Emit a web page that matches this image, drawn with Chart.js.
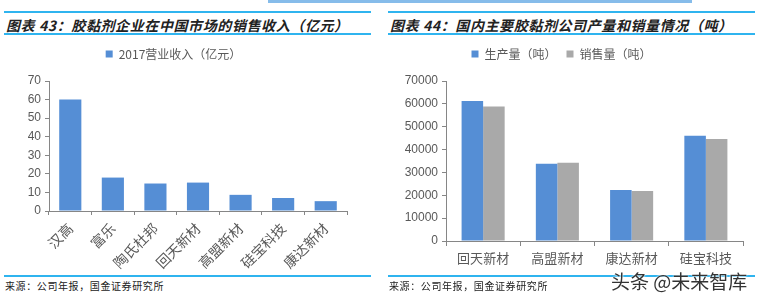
<!DOCTYPE html>
<html>
<head>
<meta charset="utf-8">
<script src="https://cdn.jsdelivr.net/npm/chart.js@4"></script>
<style>
  body { margin: 0; background: #fff; width: 758px; height: 297px; position: relative; overflow: hidden;
         font-family: "Noto Sans CJK SC", "Liberation Sans", sans-serif; }
  .strip { position: absolute; left: 268px; top: 0; width: 424px; height: 3px; background: #86bcea; }
  .line { position: absolute; height: 2px; background: #2fb4ef; }
  .title { position: absolute; top: 15px; font-size: 14px; font-style: italic; font-weight: bold; color: #222;
           white-space: nowrap; letter-spacing: 0.6px; }
  .src { position: absolute; top: 278px; font-size: 10px; color: #222; letter-spacing: 0.6px; white-space: nowrap; }
  .wm { position: absolute; left: 611px; top: 267px; font-size: 19px; color: #333; white-space: nowrap;
        text-shadow: 0 0 2px #fff, 0 0 2px #fff; }
  canvas { position: absolute; }
</style>
</head>
<body>
<div class="strip"></div>
<div class="line" style="left:4px;top:11px;width:367px"></div>
<div class="line" style="left:4px;top:33px;width:367px"></div>
<div class="line" style="left:388px;top:11px;width:367px"></div>
<div class="line" style="left:388px;top:33px;width:367px"></div>
<div class="title" style="left:6px">图表 43：胶黏剂企业在中国市场的销售收入（亿元）</div>
<div class="title" style="left:390px">图表 44：国内主要胶黏剂公司产量和销量情况（吨）</div>
<canvas id="leftChart" width="380" height="240" style="left:0;top:32px"></canvas>
<canvas id="rightChart" width="378" height="240" style="left:380px;top:32px"></canvas>
<div class="line" style="left:4px;top:275px;width:367px"></div>
<div class="line" style="left:388px;top:275px;width:367px"></div>
<div class="src" style="left:5px">来源：公司年报，国金证券研究所</div>
<div class="src" style="left:389px">来源：公司年报，国金证券研究所</div>
<div class="wm">头条 @未来智库</div>
<script>
const companies = ['汉高', '富乐', '陶氏杜邦', '回天新材', '高盟新材', '硅宝科技', '康达新材'];
const revenue2017 = [60, 18, 14.8, 15.3, 8.7, 7, 5.3];

const firms = ['回天新材', '高盟新材', '康达新材', '硅宝科技'];
const production = [61200, 33800, 22300, 46000];
const sales = [58800, 34200, 21900, 44600];

const blue = '#558ed5';
const gray = '#a9a9a9';
const axisColor = '#868686';
const textColor = '#595959';

// make room under the legend
const legendGap = {
    id: 'legendGap',
    beforeInit(chart) {
        const fit = chart.legend.fit;
        chart.legend.fit = function () {
            fit.bind(chart.legend)();
            this.height += 11;
        };
    },
};

function axisY(width, max, step) {
    return {
        min: 0, max: max,
        ticks: { stepSize: step, color: textColor, padding: 4, font: { family: 'Liberation Sans', size: 12 },
                 callback: v => String(v) },
        grid: { drawOnChartArea: false, drawTicks: true, tickLength: 4, color: axisColor },
        border: { color: axisColor },
        afterFit: s => { s.width = width; },
    };
}

const legendOpts = {
    labels: { boxWidth: 7, boxHeight: 7, color: textColor, padding: 10,
              font: { family: '"Noto Sans CJK SC"', size: 12 } },
};

new Chart(document.getElementById('leftChart'), {
    type: 'bar',
    data: {
        labels: companies,
        datasets: [{
            label: '2017营业收入（亿元）',
            data: revenue2017,
            backgroundColor: blue,
            categoryPercentage: 0.52,
            barPercentage: 1,
        }],
    },
    options: {
        responsive: false,
        animation: false,
        layout: { padding: { top: 6, right: 33, left: 0, bottom: 0 } },
        plugins: { tooltip: { enabled: false }, legend: legendOpts },
        scales: {
            x: {
                ticks: { color: textColor, minRotation: 45, maxRotation: 45, padding: 5,
                         font: { family: '"Noto Sans CJK SC"', size: 14 } },
                grid: { drawOnChartArea: false, drawTicks: true, tickLength: 4, color: axisColor },
                border: { color: axisColor },
                afterFit: s => { s.height = 61; },
            },
            y: axisY(49, 70, 10),
        },
    },
    plugins: [legendGap],
});

new Chart(document.getElementById('rightChart'), {
    type: 'bar',
    data: {
        labels: firms,
        datasets: [
            { label: '生产量（吨）', data: production, backgroundColor: blue, categoryPercentage: 0.58, barPercentage: 1 },
            { label: '销售量（吨）', data: sales, backgroundColor: gray, categoryPercentage: 0.58, barPercentage: 1 },
        ],
    },
    options: {
        responsive: false,
        animation: false,
        layout: { padding: { top: 6, right: 15, left: 0, bottom: 0 } },
        plugins: { tooltip: { enabled: false }, legend: legendOpts },
        scales: {
            x: {
                ticks: { color: textColor, padding: 4, font: { family: '"Noto Sans CJK SC"', size: 13 } },
                grid: { drawOnChartArea: false, drawTicks: true, tickLength: 5, color: axisColor },
                border: { color: axisColor },
                afterFit: s => { s.height = 31; },
            },
            y: axisY(66, 70000, 10000),
        },
    },
    plugins: [legendGap],
});
</script>
</body>
</html>
